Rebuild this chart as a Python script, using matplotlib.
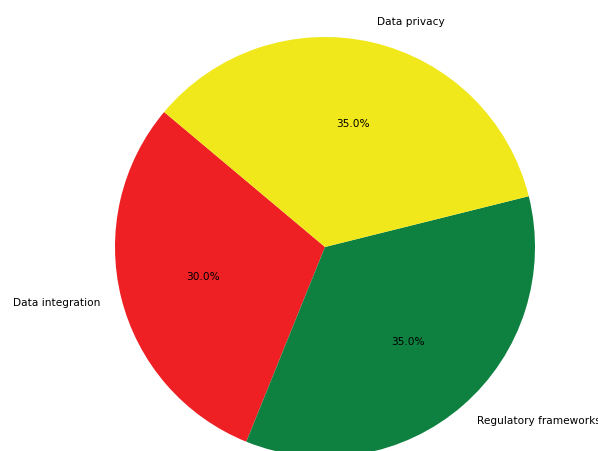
import matplotlib
matplotlib.use("Agg")
import matplotlib.pyplot as plt

labels = ['Data integration', 'Regulatory frameworks', 'Data privacy']
sizes = [30, 35, 35]
colors = ['#ee2024', '#0e8040', '#f0e81a']

fig = plt.figure(figsize=(5.98, 4.51), dpi=100)
# pie centred near (325, 247) px with a radius of about 210 px
ax = fig.add_axes([62.5 / 598, -58.5 / 451, 525 / 598, 525 / 451])
ax.pie(sizes, labels=labels, colors=colors, autopct='%1.1f%%',
       startangle=140, textprops={'fontsize': 7.6})
ax.set_xlim(-1.25, 1.25)
ax.set_ylim(-1.25, 1.25)
ax.set_aspect('equal')

fig.savefig('out.png', dpi=100)
